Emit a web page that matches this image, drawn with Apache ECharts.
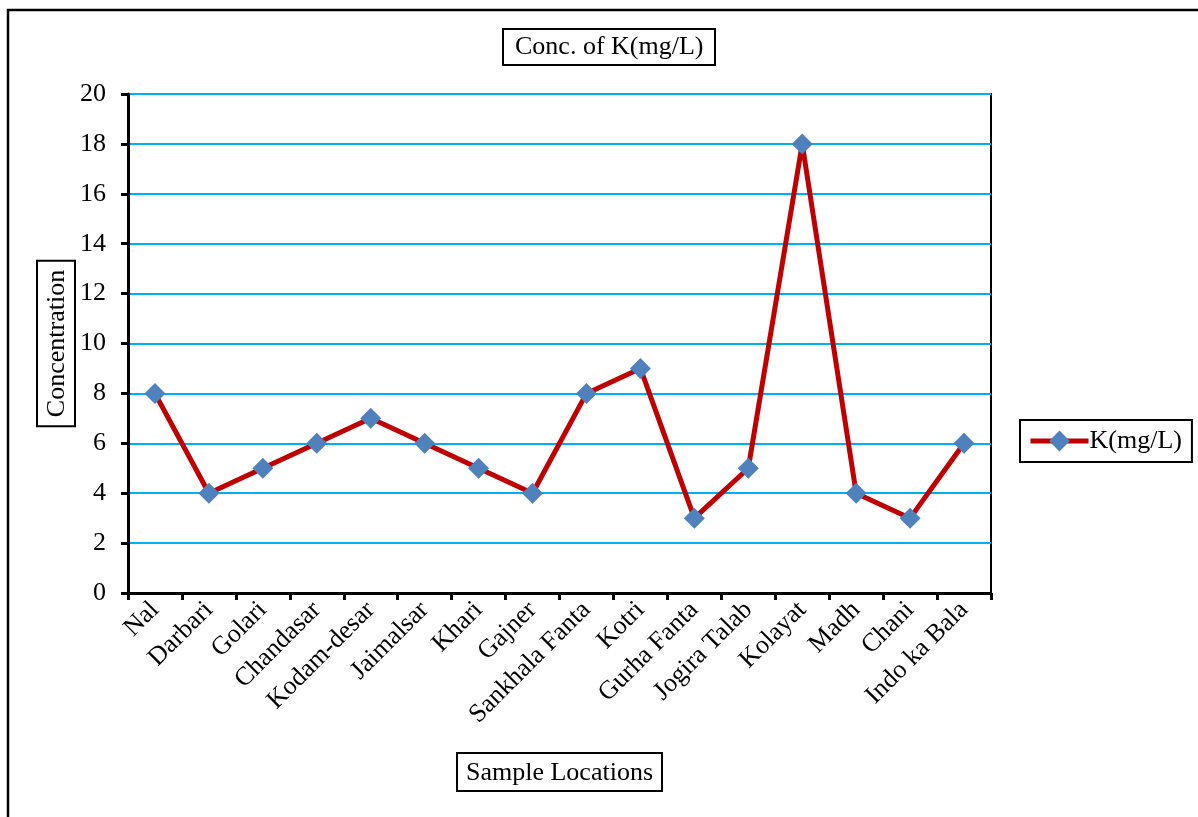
<!DOCTYPE html>
<html>
<head>
<meta charset="utf-8">
<title>Conc. of K(mg/L)</title>
<script src="https://cdn.jsdelivr.net/npm/echarts@6/dist/echarts.min.js"></script>
<style>
  html, body { margin: 0; padding: 0; background: #fff; }
  #chart { width: 1198px; height: 817px; }
</style>
</head>
<body>
<div id="chart"></div>
<script>
// Sample locations along the x axis
const locations = [
  'Nal', 'Darbari', 'Golari', 'Chandasar', 'Kodam-desar', 'Jaimalsar',
  'Khari', 'Gajner', 'Sankhala Fanta', 'Kotri', 'Gurha Fanta',
  'Jogira Talab', 'Kolayat', 'Madh', 'Chani', 'Indo ka Bala'
];
// Potassium concentration at each location (mg/L)
const potassium = [8, 4, 5, 6, 7, 6, 5, 4, 8, 9, 3, 5, 18, 4, 3, 6];

const seriesName = 'K(mg/L)';
const titleText = 'Conc. of K(mg/L)';
const yAxisTitle = 'Concentration';
const xAxisTitle = 'Sample Locations';

const serif = '"Liberation Serif", "Times New Roman", Times, serif';
const boxed = {
  fontFamily: serif, fontSize: 26, color: '#000',
  borderColor: '#000', borderWidth: 2, padding: [7, 9, 5, 9]
};

const chart = echarts.init(document.getElementById('chart'), null, { renderer: 'canvas' });
chart.setOption({
  backgroundColor: '#fff',
  animation: false,
  textStyle: { fontFamily: serif },
  title: {
    text: titleText,
    left: 503, top: 29,
    padding: [5, 12, 5, 12],
    borderColor: '#000', borderWidth: 2,
    textStyle: { fontFamily: serif, fontSize: 26, fontWeight: 'normal', color: '#000' }
  },
  legend: {
    data: [seriesName],
    left: 1020, top: 420,
    orient: 'vertical',
    borderColor: '#000', borderWidth: 2,
    padding: [8, 10, 8, 8],
    itemWidth: 58, itemHeight: 26, itemGap: 0,
    lineStyle: { color: '#C00000', width: 5 },
    textStyle: { fontFamily: serif, fontSize: 26, color: '#000', padding: [0, 0, 0, -4] }
  },
  grid: {
    left: 128, right: 207, top: 94, bottom: 224,
    show: true, borderColor: '#000', borderWidth: 2, backgroundColor: 'transparent'
  },
  graphic: [{
    type: 'rect', z: 100, silent: true,
    shape: { x: 8, y: 10, width: 1400, height: 1000 },
    style: { fill: null, stroke: '#000', lineWidth: 2.5 }
  }],
  xAxis: {
    type: 'category',
    data: locations,
    boundaryGap: true,
    name: xAxisTitle,
    nameLocation: 'middle',
    nameGap: 160,
    nameMoveOverlap: false,
    nameTextStyle: boxed,
    axisLine: { lineStyle: { color: '#000', width: 3 } },
    axisTick: { show: true, length: 7, lineStyle: { color: '#000', width: 3 }, interval: 0 },
    axisLabel: {
      interval: 0, rotate: 45, margin: 13,
      fontFamily: serif, fontSize: 26, color: '#000'
    },
    splitLine: { show: false }
  },
  yAxis: {
    type: 'value',
    min: 0, max: 20, interval: 2,
    name: yAxisTitle,
    nameLocation: 'middle',
    nameRotate: 90,
    nameGap: 53,
    nameMoveOverlap: false,
    nameTextStyle: boxed,
    axisLine: { show: true, lineStyle: { color: '#000', width: 3 } },
    axisTick: { show: true, length: 7, lineStyle: { color: '#000', width: 3 } },
    axisLabel: { margin: 22, fontFamily: serif, fontSize: 26, color: '#000' },
    splitLine: { show: true, lineStyle: { color: '#00B0F0', width: 2 } }
  },
  series: [{
    name: seriesName,
    type: 'line',
    data: potassium,
    symbol: 'diamond',
    symbolSize: 21,
    lineStyle: { color: '#C00000', width: 5 },
    itemStyle: { color: '#4F81BD', borderWidth: 0 },
    z: 3
  }]
});
</script>
</body>
</html>
